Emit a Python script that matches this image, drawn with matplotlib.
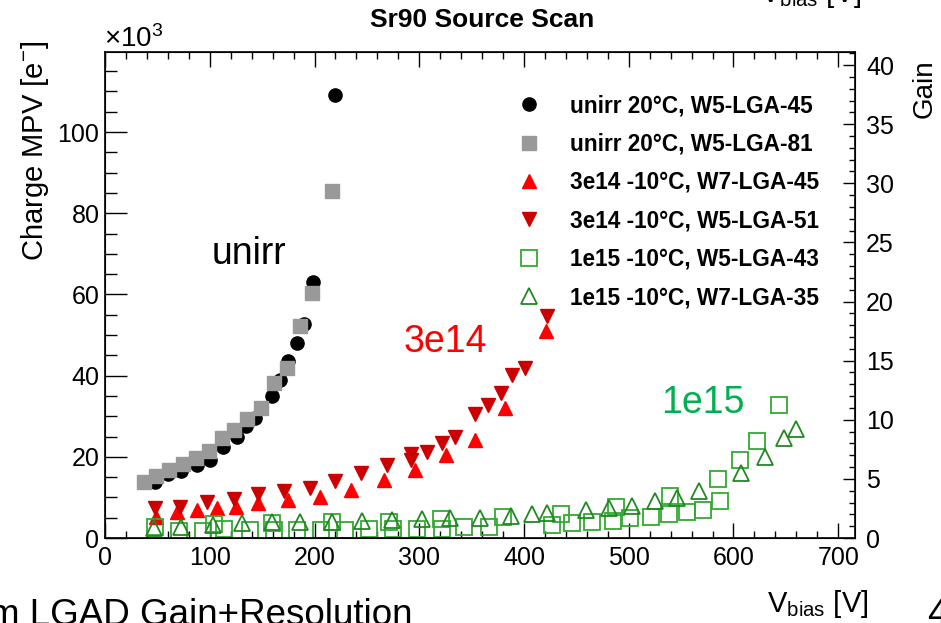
import numpy as np
import matplotlib.pyplot as plt
from matplotlib.ticker import MultipleLocator

plt.rcParams['font.family'] = ['Liberation Sans', 'DejaVu Sans']
plt.rcParams['mathtext.fontset'] = 'custom'
plt.rcParams['mathtext.rm'] = 'Liberation Sans'
plt.rcParams['mathtext.it'] = 'Liberation Sans:italic'

# unirr 20C, W5-LGA-45 (charge MPV in 1e3 e-)
v_u45 = [48, 60, 73, 88, 100, 113, 126, 135, 143, 159, 167, 175, 183, 190, 199, 220]
q_u45 = [13.8, 15.7, 16.6, 17.9, 19.3, 22.5, 25.0, 27.5, 29.6, 34.9, 39.0, 43.5, 48.1, 52.6, 63.0, 109.1]

# unirr 20C, W5-LGA-81
v_u81 = [37, 49, 61, 74, 87, 99, 112, 123, 136, 149, 161, 174, 186, 198, 217]
q_u81 = [13.8, 15.4, 16.8, 18.3, 19.8, 21.5, 24.6, 26.7, 29.4, 32.0, 38.2, 41.9, 52.2, 60.4, 85.5]

# 3e14 -10C, W7-LGA-45
v_w745 = [49, 69, 88, 107, 125, 146, 175, 205, 235, 266, 296, 326, 353, 382, 421]
q_w745 = [5.1, 6.5, 6.9, 7.3, 7.7, 8.6, 9.4, 10.2, 11.9, 14.3, 16.8, 20.5, 24.2, 32.0, 50.9]

# 3e14 -10C, W5-LGA-51
v_w551 = [48, 72, 97, 123, 146, 171, 196, 220, 244, 269, 292, 292, 307, 322, 334, 353,
          366, 378, 389, 401, 422]
q_w551 = [7.3, 7.7, 8.8, 9.6, 10.8, 11.6, 12.3, 14.1, 16.0, 17.9, 20.7, 19.3, 21.2, 23.5,
          25.0, 30.5, 32.8, 35.7, 40.2, 41.9, 54.6]

# 1e15 -10C, W5-LGA-43
v_w543 = [48, 71, 94, 104, 114, 138, 159, 161, 183, 206, 217, 229, 252, 271, 275, 298,
          321, 322, 343, 367, 380, 427, 435, 446, 465, 485, 488, 501, 521, 538, 539, 556,
          571, 585, 587, 606, 622, 643]
q_w543 = [2.6, 1.8, 1.7, 3.5, 2.1, 2.0, 3.8, 2.0, 2.0, 2.0, 3.9, 2.0, 2.3, 4.0, 2.1, 2.3,
          4.7, 2.3, 2.6, 2.6, 5.3, 3.2, 5.9, 3.6, 4.0, 4.3, 7.7, 4.9, 5.3, 5.9, 10.4, 6.5,
          6.9, 14.5, 9.0, 19.1, 23.8, 32.8]

# 1e15 -10C, W7-LGA-35
v_w735 = [47, 73, 103, 131, 159, 186, 217, 245, 274, 303, 329, 358, 388, 408, 422, 459,
          481, 503, 525, 546, 567, 607, 630, 648, 660]
q_w735 = [2.4, 2.7, 3.2, 3.6, 3.9, 4.0, 4.0, 4.2, 4.4, 4.6, 4.9, 4.9, 5.4, 5.9, 6.1, 6.8,
          7.3, 7.9, 9.2, 9.8, 11.6, 16.0, 19.9, 24.6, 26.8]

labels = ['unirr 20°C, W5-LGA-45', 'unirr 20°C, W5-LGA-81', '3e14 -10°C, W7-LGA-45',
          '3e14 -10°C, W5-LGA-51', '1e15 -10°C, W5-LGA-43', '1e15 -10°C, W7-LGA-35']

fig = plt.figure(figsize=(9.41, 6.23), dpi=100)
ax = fig.add_axes([0.1116, 0.1364, 0.797, 0.780])

ax.plot(v_u45, q_u45, 'o', color='black', ms=9.5, ls='none', label=labels[0])
ax.plot(v_u81, q_u81, 's', color='#999999', ms=9.5, ls='none', label=labels[1])
ax.plot(v_w745, q_w745, '^', color='#ff0000', ms=9.5, ls='none', label=labels[2])
ax.plot(v_w551, q_w551, 'v', color='#cc0000', ms=9.5, ls='none', label=labels[3])
ax.plot(v_w543, q_w543, 's', mec='#33aa33', mfc='none', mew=1.3, ms=11, ls='none', label=labels[4])
ax.plot(v_w735, q_w735, '^', mec='#228822', mfc='none', mew=1.3, ms=11, ls='none', label=labels[5])

ax.set_xlim(0, 716)
ax.set_ylim(0, 119.7)
ax.xaxis.set_major_locator(MultipleLocator(100))
ax.xaxis.set_minor_locator(MultipleLocator(20))
ax.yaxis.set_major_locator(MultipleLocator(20))
ax.yaxis.set_minor_locator(MultipleLocator(5))
ax.tick_params(axis='x', which='both', direction='in', top=True, labelsize=18, pad=6, width=1)
ax.tick_params(axis='x', which='major', length=11)
ax.tick_params(axis='x', which='minor', length=5)
ax.tick_params(axis='y', which='both', direction='in', right=False, labelsize=18, pad=4, width=1)
ax.tick_params(axis='y', which='major', length=16)
ax.tick_params(axis='y', which='minor', length=8.5)
for s in ax.spines.values():
    s.set_linewidth(1.2)

ax2 = ax.twinx()
ax2.set_ylim(0, 41.1)
ax2.yaxis.set_major_locator(MultipleLocator(5))
ax2.yaxis.set_minor_locator(MultipleLocator(1))
ax2.tick_params(axis='y', which='both', direction='in', labelsize=18, pad=8, width=1)
ax2.tick_params(axis='y', which='major', length=9)
ax2.tick_params(axis='y', which='minor', length=4.5)

leg = ax.legend(loc='upper left', bbox_to_anchor=(0.535, 0.932), frameon=False,
                prop={'weight': 'bold', 'size': 16.3}, handletextpad=1.2,
                labelspacing=0.68, handlelength=1.2, borderaxespad=0)

ax.text(102, 67.5, 'unirr', fontsize=27, color='black')
ax.text(285, 45.9, '3e14', fontsize=27, color='#ff0000')
ax.text(531, 30.9, '1e15', fontsize=27, color='#00b050')

fig.text(0.512, 0.957, 'Sr90 Source Scan', ha='center', va='baseline', fontsize=19, fontweight='bold')
fig.text(0.110, 0.925, r'×10$^{3}$', ha='left', va='baseline', fontsize=20)
fig.text(0.037, 0.935, r'Charge MPV [e$^{-}$]', rotation=90, ha='center', va='top', fontsize=21)
fig.text(0.983, 0.905, 'Gain', rotation=90, ha='center', va='top', fontsize=20)
fig.text(0.923, 0.018, r'V$_{\mathrm{bias}}$ [V]', ha='right', va='baseline', fontsize=21)
fig.text(0.916, 0.996, r'V$_{\mathrm{bias}}$ [V]', ha='right', va='baseline', fontsize=21)
fig.text(-0.012, -0.004, 'm LGAD Gain+Resolution', ha='left', va='baseline', fontsize=26.5)
fig.text(0.985, -0.004, '4', ha='left', va='baseline', fontsize=26.5)

fig.savefig('out.png', dpi=100)
